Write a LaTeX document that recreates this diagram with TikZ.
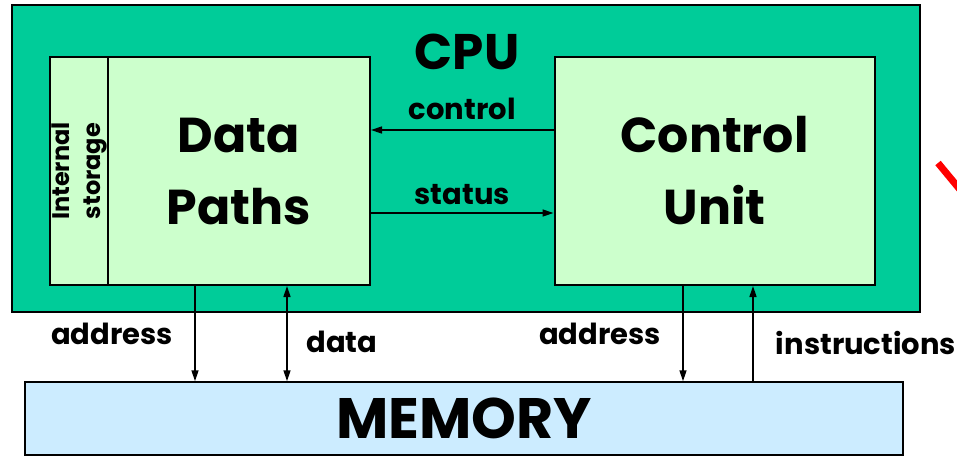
\documentclass[tikz,border=0pt]{standalone}
\usepackage{fontspec}
\setmainfont{Poppins}
\usetikzlibrary{arrows.meta}
\definecolor{cpugreen}{RGB}{0,204,153}
\definecolor{boxgreen}{RGB}{204,255,204}
\definecolor{memblue}{RGB}{204,236,255}
\newcommand{\fs}[1]{\fontsize{#1}{#1}\selectfont\bfseries}
\tikzset{
  >={Triangle[length=11pt,width=7pt]},
  unit/.style={draw, line width=2pt, fill=boxgreen, minimum width=320pt, minimum height=228pt},
  lbl/.style={font=\fs{29}, inner sep=0pt}
}
\begin{document}
\begin{tikzpicture}[x=1pt, y=-1pt]
   \useasboundingbox (0,0) rectangle (957,459);
   \node (cpu) at (466,158.5) [draw, line width=2pt, fill=cpugreen, minimum width=908pt, minimum height=307pt] {};
   \node (cpuname) at (467,52) [font=\fs{50}] {CPU};
   \node (dp) at (210,171) [unit] {};
   \node (store) at (79,171) [unit, minimum width=58pt] {};
   \node (storename) at (79,171) [rotate=90, align=center, font=\fontsize{24}{31}\selectfont\bfseries, inner sep=0pt] {Internal\\storage};
   \node (dpname) at (239,171) [align=center, font=\fontsize{49}{72}\selectfont\bfseries] {Data\\Paths};
   \node (cu) at (714.5,171) [unit] {};
   \node (cuname) at (714.5,171) [align=center, font=\fontsize{49}{72}\selectfont\bfseries] {Control\\Unit};
   \node (mem) at (464,418.5) [draw, line width=1.5pt, fill=memblue, minimum width=878pt, minimum height=73pt, font=\fs{57}] {MEMORY};

   \path[->, line width=1.5pt]
     (cu.west |- 0,130) edge node [lbl, above=10pt] {control} (dp.east |- 0,130)
     (dp.east |- 0,213) edge node [lbl, above=8pt] {status} (cu.west |- 0,213)
     (dp.south -| 195,0) edge (mem.north -| 195,0)
     (cu.south -| 683,0) edge (mem.north -| 683,0)
     (mem.north -| 753,0) edge (cu.south -| 753,0);
   \path[<->, line width=1.5pt]
     (dp.south -| 287,0) edge (mem.north -| 287,0);

   \node (addrdp) at (112,334) [lbl] {address};
   \node (datadp) at (342,342) [lbl] {data};
   \node (addrcu) at (600,334) [lbl] {address};
   \node (instcu) at (866,343) [lbl] {instructions};

   \draw[red, line width=7pt] (938,163) -- (962,192);
\end{tikzpicture}
\end{document}
